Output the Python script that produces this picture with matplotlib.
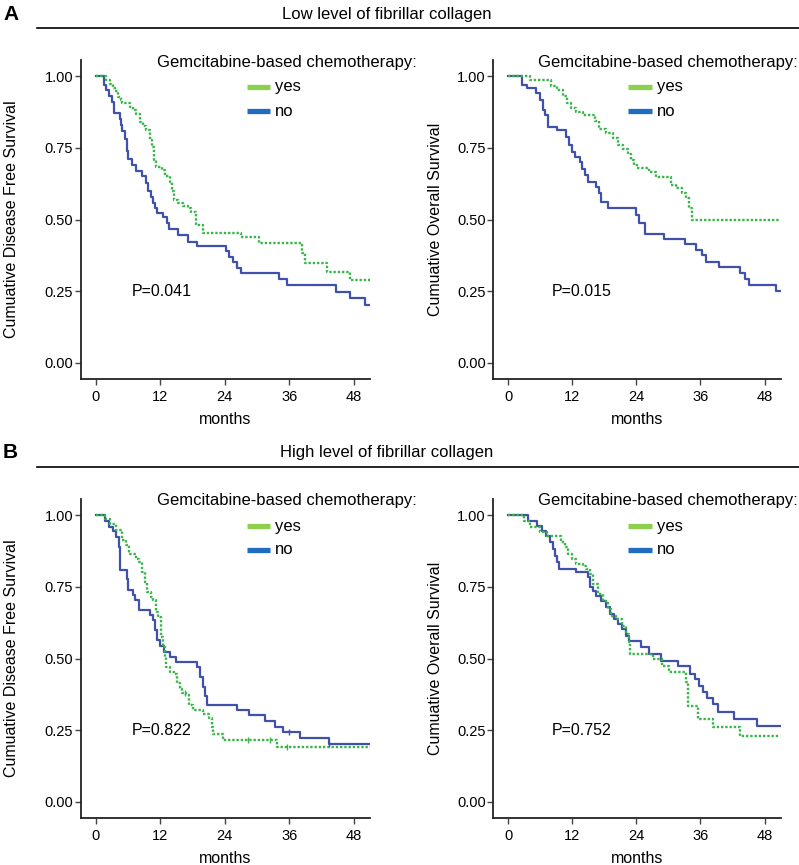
import matplotlib
matplotlib.use("Agg")
import matplotlib.pyplot as plt
from matplotlib.lines import Line2D

plt.rcParams['font.family'] = ['Liberation Sans', 'DejaVu Sans']

# Kaplan-Meier steps: (month of step, survival after step)
dfs_low_yes_t = [0, 2.0, 2.7, 3.3, 3.6, 4.2, 4.8, 5.0, 6.4, 6.9, 7.6, 8.3, 8.8, 9.4, 10.1, 10.5, 10.8, 11.2,
                 12.3, 12.9, 13.9, 14.3, 14.6, 15.4, 16.3, 17.2, 17.8, 18.6, 18.7, 20.0, 27.1, 30.3, 38.4,
                 39.0, 43.0, 47.2]
dfs_low_yes_s = [1.0, 0.986, 0.972, 0.96, 0.948, 0.928, 0.916, 0.905, 0.893, 0.88, 0.868, 0.84, 0.826, 0.812,
                 0.777, 0.754, 0.707, 0.684, 0.672, 0.652, 0.63, 0.60, 0.568, 0.556, 0.547, 0.539, 0.525,
                 0.51, 0.481, 0.454, 0.44, 0.417, 0.383, 0.347, 0.318, 0.289]
dfs_low_no_t = [0, 1.5, 2.0, 2.5, 3.0, 3.4, 4.5, 4.8, 5.0, 5.5, 5.8, 6.1, 6.7, 7.6, 8.6, 9.4, 9.8, 10.3, 10.7,
                11.1, 11.5, 12.6, 13.2, 13.7, 15.4, 17.2, 18.8, 24.2, 24.8, 25.6, 26.2, 27.1, 34.0, 35.6,
                44.6, 47.2, 50.0]
dfs_low_no_s = [1.0, 0.97, 0.95, 0.93, 0.91, 0.87, 0.85, 0.83, 0.81, 0.78, 0.74, 0.71, 0.69, 0.67, 0.65,
                0.626, 0.60, 0.58, 0.556, 0.54, 0.522, 0.51, 0.487, 0.466, 0.446, 0.423, 0.408, 0.39, 0.37,
                0.353, 0.33, 0.315, 0.291, 0.272, 0.248, 0.225, 0.202]

os_low_yes_t = [0, 4.2, 8.0, 9.2, 10.3, 11.0, 11.8, 12.8, 14.0, 16.3, 17.1, 18.4, 19.6, 20.5, 21.5, 22.4,
                23.0, 23.6, 24.2, 26.4, 27.6, 30.4, 31.4, 32.5, 33.2, 33.8, 34.4]
os_low_yes_s = [1.0, 0.988, 0.965, 0.95, 0.93, 0.905, 0.89, 0.875, 0.864, 0.844, 0.815, 0.80, 0.783, 0.76,
                0.745, 0.728, 0.707, 0.69, 0.678, 0.667, 0.649, 0.62, 0.609, 0.591, 0.574, 0.54, 0.498]
os_low_no_t = [0, 2.6, 3.5, 5.3, 6.0, 6.6, 7.0, 7.4, 9.1, 10.9, 11.5, 11.9, 12.6, 13.4, 13.9, 14.4, 15.0,
               16.5, 17.0, 17.4, 18.7, 23.9, 24.5, 25.7, 29.2, 33.1, 35.2, 36.2, 37.1, 39.4, 43.4, 44.3,
               45.1, 50.1]
os_low_no_s = [1.0, 0.969, 0.957, 0.94, 0.916, 0.882, 0.864, 0.823, 0.812, 0.789, 0.76, 0.736, 0.719, 0.701,
               0.675, 0.655, 0.632, 0.614, 0.591, 0.562, 0.541, 0.516, 0.487, 0.449, 0.431, 0.415, 0.394,
               0.376, 0.353, 0.333, 0.315, 0.293, 0.272, 0.251]

dfs_high_yes_t = [0, 1.8, 2.7, 3.9, 5.0, 5.6, 6.3, 7.6, 8.1, 8.6, 9.2, 9.5, 10.3, 10.7, 11.2, 11.6, 12.1,
                  12.5, 12.9, 13.1, 13.9, 14.5, 15.1, 15.7, 16.0, 16.8, 17.3, 18.2, 20.0, 21.0, 21.6, 21.9,
                  23.6, 33.7]
dfs_high_yes_s = [1.0, 0.985, 0.97, 0.947, 0.912, 0.895, 0.865, 0.848, 0.836, 0.80, 0.767, 0.732, 0.714,
                  0.703, 0.662, 0.645, 0.575, 0.54, 0.505, 0.47, 0.453, 0.447, 0.413, 0.395, 0.378, 0.372,
                  0.337, 0.32, 0.308, 0.291, 0.261, 0.238, 0.215, 0.192]
dfs_high_no_t = [0, 1.7, 2.6, 3.2, 3.9, 4.3, 4.5, 5.9, 6.1, 6.9, 7.3, 8.1, 10.1, 10.6, 11.0, 11.5, 11.9,
                 12.7, 13.8, 15.0, 18.8, 19.4, 20.0, 20.3, 20.7, 26.3, 28.6, 31.5, 33.4, 34.9, 38.0, 43.3]
dfs_high_no_s = [1.0, 0.98, 0.96, 0.943, 0.923, 0.889, 0.807, 0.778, 0.738, 0.72, 0.703, 0.67, 0.65, 0.633,
                 0.598, 0.563, 0.543, 0.523, 0.505, 0.488, 0.47, 0.435, 0.40, 0.37, 0.339, 0.32, 0.302,
                 0.283, 0.262, 0.244, 0.224, 0.203]
dfs_high_yes_cens = [16.6, 28.4, 32.5, 35.6]
dfs_high_no_cens = [35.9, 43.3]

os_high_yes_t = [0, 2.9, 4.1, 6.0, 7.2, 9.9, 10.6, 11.3, 11.9, 12.8, 14.0, 14.6, 15.3, 15.9, 16.8, 17.7,
                 18.7, 19.3, 20.2, 21.4, 22.1, 22.6, 22.9, 27.1, 28.8, 30.1, 33.2, 33.7, 35.6, 38.3, 43.4]
os_high_yes_s = [1.0, 0.98, 0.958, 0.94, 0.928, 0.905, 0.888, 0.865, 0.847, 0.83, 0.824, 0.812, 0.795,
                 0.76, 0.725, 0.702, 0.672, 0.649, 0.638, 0.614, 0.585, 0.556, 0.516, 0.498, 0.475, 0.452,
                 0.417, 0.335, 0.289, 0.26, 0.23]
os_high_no_t = [0, 3.8, 5.4, 6.3, 7.1, 7.9, 8.5, 8.7, 9.2, 9.5, 12.8, 15.0, 15.3, 15.9, 16.5, 17.4, 18.4,
                19.0, 19.9, 20.5, 21.4, 22.0, 22.7, 24.9, 26.4, 28.6, 31.8, 34.0, 34.9, 35.8, 36.5, 37.2,
                38.3, 39.2, 42.2, 46.5]
os_high_no_s = [1.0, 0.98, 0.963, 0.946, 0.928, 0.905, 0.882, 0.858, 0.835, 0.812, 0.80, 0.783, 0.748,
                0.737, 0.719, 0.702, 0.678, 0.655, 0.638, 0.62, 0.603, 0.579, 0.562, 0.539, 0.516, 0.492,
                0.475, 0.446, 0.428, 0.405, 0.382, 0.364, 0.341, 0.312, 0.289, 0.265]

p_values = ["P=0.041", "P=0.015", "P=0.822", "P=0.752"]
y_labels = ["Cumuative Disease Free Survival", "Cumuative Overall Survival"]
group_titles = ["Low level of fibrillar collagen", "High level of fibrillar collagen"]
legend_title = "Gemcitabine-based chemotherapy:"
legend_labels = ["yes", "no"]
x_ticks = [0, 12, 24, 36, 48]
y_ticks = [0.0, 0.25, 0.5, 0.75, 1.0]

GREEN = "#39b54a"
BLUE = "#3f51a8"
LEG_GREEN = "#8cd04e"
LEG_BLUE = "#1f6cc0"
W, H = 799, 865


def km_line(ax, t, s, end, **kw):
    ax.plot(list(t) + [end], list(s) + [s[-1]], drawstyle="steps-post", **kw)


def step_value(t, s, x):
    v = s[0]
    for ti, si in zip(t, s):
        if ti <= x:
            v = si
    return v


def draw_panel(ax, yes_t, yes_s, no_t, no_s, end, ylabel, ptext, ptext_x, label_x,
               yes_cens=None, no_cens=None):
    km_line(ax, no_t, no_s, end, color=BLUE, lw=1.6)
    km_line(ax, yes_t, yes_s, end, color=GREEN, lw=1.7, linestyle=(0, (1, 0.8)))
    if no_cens:
        ax.plot(no_cens, [step_value(no_t, no_s, c) for c in no_cens], ls="none",
                marker="|", ms=5, mew=1, color=BLUE)
    if yes_cens:
        ax.plot(yes_cens, [step_value(yes_t, yes_s, c) for c in yes_cens], ls="none",
                marker="|", ms=5, mew=1, color=GREEN)
    ax.set_xlim(-2.75, 51)
    ax.set_ylim(-0.056, 1.056)
    ax.set_xticks(x_ticks)
    ax.set_yticks(y_ticks)
    ax.set_yticklabels(["%.2f" % v for v in y_ticks])
    for side in ["top", "right"]:
        ax.spines[side].set_visible(False)
    for side in ["left", "bottom"]:
        ax.spines[side].set_linewidth(1.3)
        ax.spines[side].set_color("#222222")
    ax.tick_params(labelsize=10.5, length=4, width=1, color="#444444", pad=1.5)
    ax.tick_params(axis="x", pad=4)
    ax.set_xlabel("months", fontsize=11.5, labelpad=6)
    ax.set_ylabel(ylabel, fontsize=11.5)
    ax.yaxis.set_label_coords(label_x, 0.5)
    ax.text(ptext_x, 0.25, ptext, fontsize=11.5, va="center", ha="left")


def draw_legend(fig, x0, y0):
    fig.text(x0 / W, 1 - y0 / H, legend_title, fontsize=12, va="center", ha="left")
    for i, (lab, col) in enumerate(zip(legend_labels, [LEG_GREEN, LEG_BLUE])):
        yy = 1 - (y0 + 25 + 24 * i) / H
        fig.add_artist(Line2D([(x0 + 90) / W, (x0 + 113.5) / W], [yy, yy], color=col,
                              lw=3.8, solid_capstyle="butt"))
        fig.text((x0 + 118.5) / W, yy, lab, fontsize=12, va="center", ha="left")


fig = plt.figure(figsize=(7.99, 8.65), dpi=100)

rows = [
    (60, group_titles[0], "A",
     (dfs_low_yes_t, dfs_low_yes_s, dfs_low_no_t, dfs_low_no_s, None, None),
     (os_low_yes_t, os_low_yes_s, os_low_no_t, os_low_no_s, None, None),
     p_values[0], p_values[1]),
    (499, group_titles[1], "B",
     (dfs_high_yes_t, dfs_high_yes_s, dfs_high_no_t, dfs_high_no_s, dfs_high_yes_cens, dfs_high_no_cens),
     (os_high_yes_t, os_high_yes_s, os_high_no_t, os_high_no_s, None, None),
     p_values[2], p_values[3]),
]

for top, title, letter, left_data, right_data, p_left, p_right in rows:
    title_y = top - 46
    line_y = top - 32
    fig.text(387 / W, 1 - title_y / H, title, fontsize=12, ha="center", va="center")
    fig.text(3 / W, 1 - title_y / H, letter, fontsize=15, fontweight="bold", ha="left", va="center")
    fig.add_artist(Line2D([37 / W, 1.0], [1 - line_y / H] * 2, color="black", lw=1.2))

    bottom = 1 - (top + 319) / H
    ax_l = fig.add_axes([80.7 / W, bottom, 289.3 / W, 319 / H])
    ax_r = fig.add_axes([493.3 / W, bottom, 287.4 / W, 319 / H])

    yt, ys, nt, ns, yc, nc = left_data
    draw_panel(ax_l, yt, ys, nt, ns, 51, y_labels[0], p_left, 6.7, -0.213, yc, nc)
    yt, ys, nt, ns, yc, nc = right_data
    draw_panel(ax_r, yt, ys, nt, ns, 50.8, y_labels[1], p_right, 8.2, -0.175, yc, nc)

    draw_legend(fig, 156.7, top + 2)
    draw_legend(fig, 538.3, top + 2)

fig.savefig("out.png", dpi=100)
